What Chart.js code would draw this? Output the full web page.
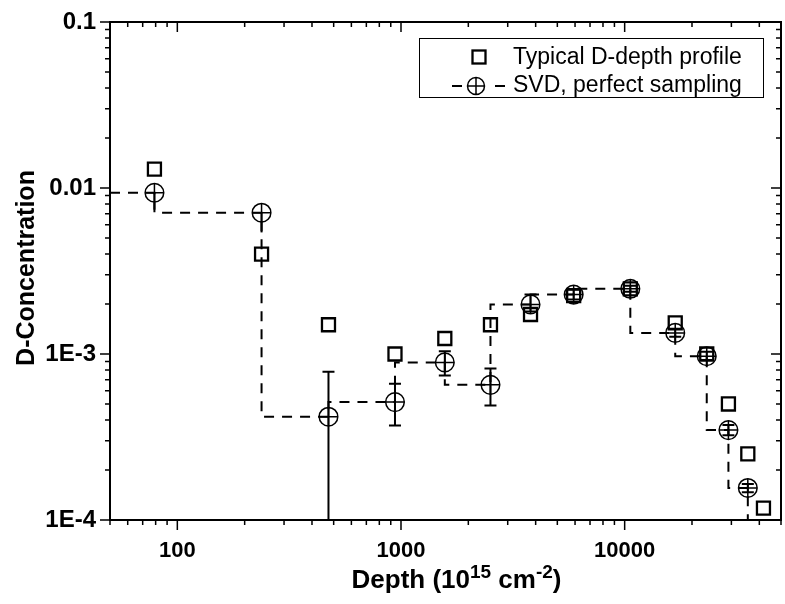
<!DOCTYPE html>
<html>
<head>
<meta charset="utf-8">
<script src="https://cdn.jsdelivr.net/npm/chart.js@4.4.1/dist/chart.umd.min.js"></script>
<style>
  html, body { margin: 0; padding: 0; background: #fff; }
  #wrap { width: 785px; height: 604px; }
</style>
</head>
<body>
<div id="wrap"><canvas id="depthChart" width="785" height="604"></canvas></div>
<script>
// depth in units of 1e15 cm^-2
var profileDepth = [79, 238, 474, 940, 1570, 2512, 3794, 5915, 10600, 16830, 23280, 29100, 35530, 41740];
var profileConc  = [0.0130, 0.0040, 0.00150, 0.00100, 0.00124, 0.00150, 0.00173, 0.00225, 0.00247, 0.00154, 0.00100, 0.00050, 0.00025, 0.000118];

var svdDepth   = [79, 238, 474, 940, 1570, 2512, 3794, 5915, 10600, 16830, 23280, 29100, 35530];
var svdConc    = [0.00936, 0.0071, 0.000419, 0.000513, 0.00089, 0.000652, 0.00199, 0.00228, 0.00247, 0.00134, 0.00097, 0.000348, 0.000156];
var svdErrLow  = [0.0074, 0.0054, 0.000057, 0.000371, 0.000742, 0.00049, 0.0018, 0.00213, 0.00237, 0.00127, 0.00092, 0.000324, 0.000147];
var svdErrHigh = [0.00936, 0.0071, 0.000781, 0.000661, 0.00104, 0.000819, 0.00228, 0.00244, 0.00258, 0.00142, 0.00103, 0.000374, 0.000165];

// outer edges of the SVD histogram (first bin starts at the axis, last one drops out of range)
var stepStartDepth = 50;
var stepEndDepth = 41740;
var stepEndConc = 0.00001;

var xLabelValues = [100, 1000, 10000];
var xLabelText   = ["100", "1000", "10000"];
var yLabelValues = [0.1, 0.01, 0.001, 0.0001];
var yLabelText   = ["0.1", "0.01", "1E-3", "1E-4"];

var FONT = "'Liberation Sans', Arial, Helvetica, sans-serif";

function logTicks(lo, hi) {
  var out = [];
  for (var d = Math.floor(Math.log10(lo)); d <= Math.ceil(Math.log10(hi)); d++) {
    for (var m = 1; m < 10; m++) {
      var v = m * Math.pow(10, d);
      if (v >= lo * 0.999 && v <= hi * 1.001) out.push(v);
    }
  }
  return out;
}

function labelFor(v, values, texts) {
  for (var i = 0; i < values.length; i++) {
    if (Math.abs(Math.log10(v) - Math.log10(values[i])) < 1e-6) return texts[i];
  }
  return "";
}

var stepData = [{ x: stepStartDepth, y: svdConc[0] }];
svdDepth.forEach(function (x, i) { stepData.push({ x: x, y: svdConc[i] }); });
stepData.push({ x: stepEndDepth, y: stepEndConc });

var svdPoints = svdDepth.map(function (x, i) { return { x: x, y: svdConc[i] }; });

var framePlugin = {
  id: "framePlugin",
  afterDatasetsDraw: function (chart) {
    var ctx = chart.ctx, a = chart.chartArea;
    var xs = chart.scales.x, ys = chart.scales.y;
    ctx.save();
    ctx.beginPath();
    ctx.rect(a.left, a.top, a.right - a.left, a.bottom - a.top);
    ctx.clip();
    ctx.strokeStyle = "#000";
    ctx.lineWidth = 2;
    svdDepth.forEach(function (d, i) {
      var px = xs.getPixelForValue(d);
      var lo = ys.getPixelForValue(svdErrLow[i]);
      var hi = ys.getPixelForValue(svdErrHigh[i]);
      ctx.beginPath();
      ctx.moveTo(px, lo); ctx.lineTo(px, hi);
      if (i > 1) {
        ctx.moveTo(px - 6, lo); ctx.lineTo(px + 6, lo);
        ctx.moveTo(px - 6, hi); ctx.lineTo(px + 6, hi);
      }
      ctx.stroke();
    });
    ctx.restore();
  },
  afterDraw: function (chart) {
    var ctx = chart.ctx, a = chart.chartArea;
    var xs = chart.scales.x, ys = chart.scales.y;
    ctx.save();
    ctx.strokeStyle = "#000";
    ctx.lineWidth = 2;
    ctx.strokeRect(a.left, a.top, a.right - a.left, a.bottom - a.top);

    ctx.lineWidth = 1.5;
    ctx.beginPath();
    logTicks(xs.min, xs.max).forEach(function (v) {
      var px = xs.getPixelForValue(v);
      var len = labelFor(v, xLabelValues, xLabelText) ? 10 : 5;
      ctx.moveTo(px, a.bottom); ctx.lineTo(px, a.bottom + len);
      ctx.moveTo(px, a.top); ctx.lineTo(px, a.top + len);
    });
    logTicks(ys.min, ys.max).forEach(function (v) {
      var py = ys.getPixelForValue(v);
      var len = labelFor(v, yLabelValues, yLabelText) ? 10 : 5;
      ctx.moveTo(a.left - len, py); ctx.lineTo(a.left, py);
      ctx.moveTo(a.right - len, py); ctx.lineTo(a.right, py);
    });
    ctx.stroke();

    // axis titles
    ctx.fillStyle = "#000";
    ctx.textBaseline = "alphabetic";
    ctx.textAlign = "left";
    var parts = [["Depth (10", 26, 0], ["15", 19, -10], [" cm", 26, 0], ["-2", 19, -10], [")", 26, 0]];
    var total = 0;
    parts.forEach(function (p) { ctx.font = "bold " + p[1] + "px " + FONT; total += ctx.measureText(p[0]).width; });
    var tx = (a.left + a.right) / 2 + 11 - total / 2;
    parts.forEach(function (p) {
      ctx.font = "bold " + p[1] + "px " + FONT;
      ctx.fillText(p[0], tx, 588 + p[2]);
      tx += ctx.measureText(p[0]).width;
    });

    ctx.save();
    ctx.translate(33.5, (a.top + a.bottom) / 2 - 3);
    ctx.rotate(-Math.PI / 2);
    ctx.textAlign = "center";
    ctx.font = "bold 25px " + FONT;
    ctx.fillText("D-Concentration", 0, 0);
    ctx.restore();

    // legend
    var ds = chart.data.datasets;
    ctx.fillStyle = "#fff";
    ctx.fillRect(419.5, 38.5, 344, 59);
    ctx.lineWidth = 1;
    ctx.strokeRect(419.5, 38.5, 344, 59);
    ctx.lineWidth = 2.3;
    ctx.strokeRect(472.5, 50.5, 13, 13);
    ctx.lineWidth = 2;
    ctx.beginPath();
    ctx.moveTo(452, 86); ctx.lineTo(462, 86);
    ctx.moveTo(495, 86); ctx.lineTo(505, 86);
    ctx.stroke();
    ctx.lineWidth = 1.5;
    ctx.beginPath();
    ctx.arc(476, 86, 8.5, 0, Math.PI * 2);
    ctx.moveTo(467.5, 86); ctx.lineTo(484.5, 86);
    ctx.moveTo(476, 77.5); ctx.lineTo(476, 94.5);
    ctx.stroke();
    ctx.fillStyle = "#000";
    ctx.font = "23px " + FONT;
    ctx.fillText(ds[0].label, 513, 64);
    ctx.fillText(ds[2].label, 513, 92);
    ctx.restore();
  }
};

var ctx = document.getElementById("depthChart").getContext("2d");
var depthChart = new Chart(ctx, {
  type: "scatter",
  data: {
    datasets: [
      {
        label: "Typical D-depth profile",
        data: profileDepth.map(function (x, i) { return { x: x, y: profileConc[i] }; }),
        pointStyle: "rect",
        pointRadius: 9.2,
        pointBorderWidth: 2.3,
        borderColor: "#000",
        backgroundColor: "rgba(0,0,0,0)",
        showLine: false
      },
      {
        label: "SVD histogram",
        data: stepData,
        showLine: true,
        stepped: "after",
        borderColor: "#000",
        borderWidth: 2,
        borderDash: [10, 8],
        pointRadius: 0,
        fill: false
      },
      {
        label: "SVD, perfect sampling",
        data: svdPoints,
        pointStyle: "circle",
        pointRadius: 9.3,
        pointBorderWidth: 1.5,
        borderColor: "#000",
        backgroundColor: "rgba(0,0,0,0)",
        showLine: false
      },
      {
        label: "SVD cross",
        data: svdPoints,
        pointStyle: "cross",
        pointRadius: 9.3,
        pointBorderWidth: 1.5,
        borderColor: "#000",
        showLine: false
      }
    ]
  },
  options: {
    responsive: false,
    animation: false,
    layout: { autoPadding: false, padding: { left: 0, right: 4, top: 22, bottom: 0 } },
    scales: {
      x: {
        type: "logarithmic",
        min: 50,
        max: 50000,
        grid: { display: false, drawTicks: false },
        border: { display: false },
        ticks: {
          autoSkip: false,
          maxRotation: 0,
          padding: 18,
          color: "#000",
          font: { family: FONT, size: 22, weight: "bold" },
          callback: function (v) { return labelFor(v, xLabelValues, xLabelText); }
        },
        afterBuildTicks: function (s) { s.ticks = logTicks(50, 50000).map(function (v) { return { value: v }; }); },
        afterFit: function (s) { s.height = 84; s.paddingLeft = 0; s.paddingRight = 0; }
      },
      y: {
        type: "logarithmic",
        min: 0.0001,
        max: 0.1,
        grid: { display: false, drawTicks: false },
        border: { display: false },
        ticks: {
          autoSkip: false,
          padding: 14,
          color: "#000",
          font: { family: FONT, size: 24, weight: "bold" },
          callback: function (v) { return labelFor(v, yLabelValues, yLabelText); }
        },
        afterBuildTicks: function (s) { s.ticks = logTicks(0.0001, 0.1).map(function (v) { return { value: v }; }); },
        afterFit: function (s) { s.width = 110; s.paddingTop = 0; s.paddingBottom = 0; }
      }
    },
    plugins: {
      legend: { display: false },
      tooltip: { enabled: false }
    }
  },
  plugins: [framePlugin]
});
</script>
</body>
</html>
